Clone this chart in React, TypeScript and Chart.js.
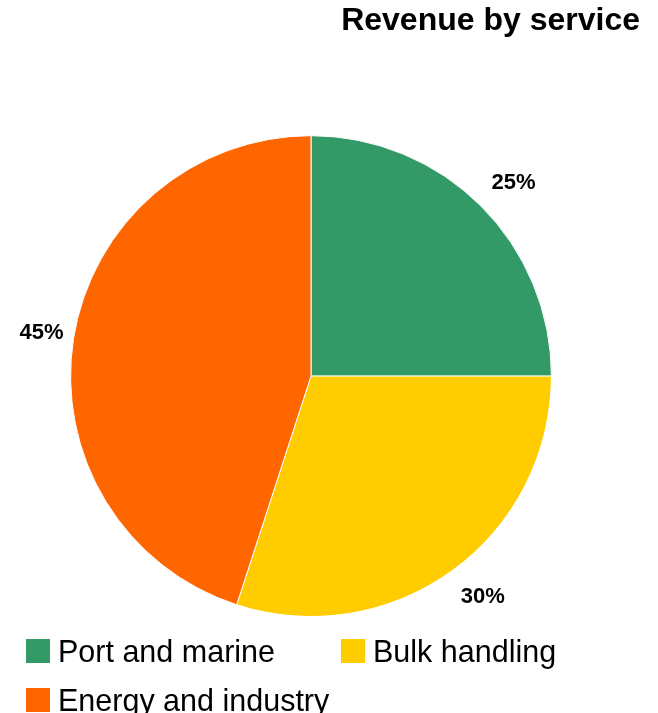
import React, { useEffect, useRef } from "react";
import { Chart, registerables } from "chart.js";

Chart.register(...registerables);

const TITLE = "Revenue by service";
const LABELS = ["Port and marine", "Bulk handling", "Energy and industry"];
const VALUES = [25, 30, 45];
const COLORS = ["#339966", "#FFCC00", "#FF6600"];

const FONT = '"Liberation Sans", Arial, sans-serif';

const pctPlugin = {
  id: "pctLabels",
  afterDatasetsDraw(chart: any) {
    const ctx = chart.ctx;
    const meta = chart.getDatasetMeta(0);
    const total = VALUES.reduce((a, b) => a + b, 0);
    ctx.save();
    ctx.font = `bold 22px ${FONT}`;
    ctx.fillStyle = "#000";
    ctx.textAlign = "center";
    ctx.textBaseline = "middle";
    meta.data.forEach((arc: any, i: number) => {
      const { x, y, startAngle, endAngle, outerRadius } = arc.getProps(
        ["x", "y", "startAngle", "endAngle", "outerRadius"],
        true
      );
      const a = (startAngle + endAngle) / 2;
      const c = Math.cos(a);
      const s = Math.sin(a);
      const lx = x + (outerRadius + 30) * c + 16 * Math.abs(s) * Math.sign(c);
      const ly = y + (outerRadius + 33) * s;
      ctx.fillText(Math.round((VALUES[i] / total) * 100) + "%", lx, ly);
    });
    ctx.restore();
  },
};

export default function App() {
  const ref = useRef<HTMLCanvasElement | null>(null);

  useEffect(() => {
    if (!ref.current) return;
    const chart = new Chart(ref.current, {
      type: "pie",
      data: {
        labels: LABELS,
        datasets: [
          {
            data: VALUES,
            backgroundColor: COLORS,
            borderColor: "#ffffff",
            borderWidth: 1,
          },
        ],
      },
      options: {
        responsive: false,
        animation: false,
        devicePixelRatio: 1,
        layout: { padding: { left: 0, right: 0, top: 0, bottom: 96 } },
        plugins: {
          legend: { display: false },
          tooltip: { enabled: false },
          title: {
            display: true,
            text: TITLE,
            align: "end",
            color: "#000",
            font: { family: FONT, size: 32, weight: "bold", lineHeight: 1.2 },
            padding: { top: 2, bottom: 94.8 },
          },
        },
      } as any,
      plugins: [pctPlugin],
    });
    return () => chart.destroy();
  }, []);

  return (
    <div>
      <div style={{ position: "absolute", left: -18, top: 0, width: 658, height: 713 }}>
        <canvas ref={ref} width={658} height={713} style={{ display: "block" }} />
      </div>
      <div
        style={{
          position: "absolute",
          left: 26,
          top: 639,
          display: "grid",
          gridTemplateColumns: "315px 315px",
          rowGap: "25px",
          fontFamily: FONT,
        }}
      >
        {LABELS.map((l, i) => (
          <div key={l} style={{ display: "flex", alignItems: "center", height: 24 }}>
            <div style={{ width: 24, height: 24, background: COLORS[i], marginRight: 8, flex: "none" }} />
            <span style={{ fontSize: 30.5, lineHeight: "24px", whiteSpace: "nowrap", color: "#000" }}>{l}</span>
          </div>
        ))}
      </div>
    </div>
  );
}
